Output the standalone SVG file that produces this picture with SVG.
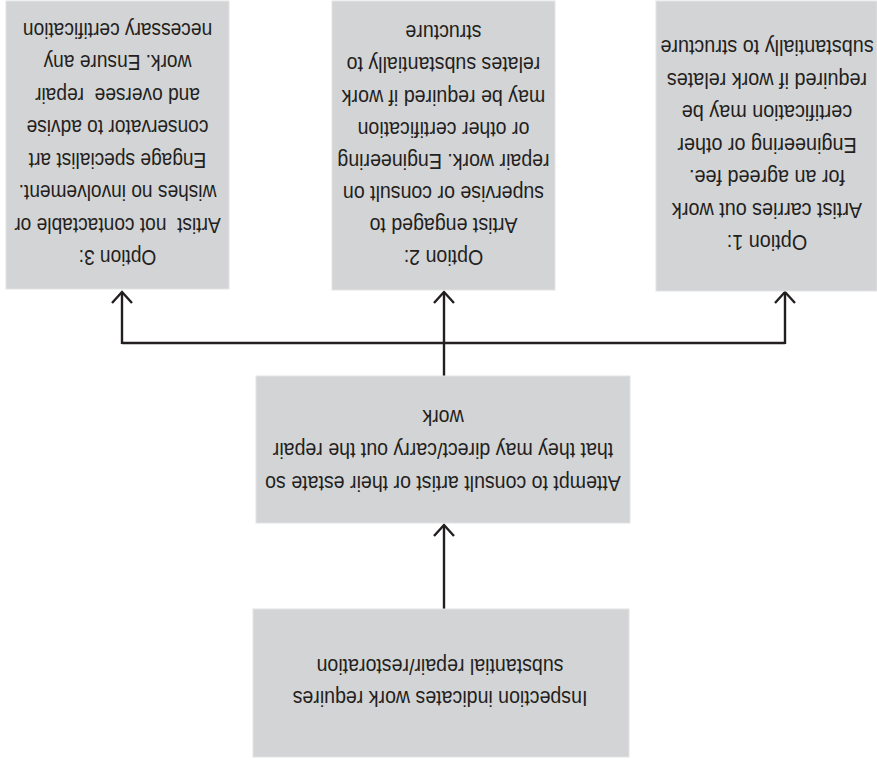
<svg xmlns="http://www.w3.org/2000/svg" width="877" height="762" viewBox="0 0 877 762">
  <style>
    .box { fill: #d3d4d6; stroke: #e2e3e4; stroke-width: 1; }
    .lbl { font-family: "Liberation Sans", Arial, sans-serif; font-size: 22px; fill: #231f20; text-anchor: middle; white-space: pre; }
    .wire { fill: none; stroke: #231f20; stroke-width: 2.4; }
  </style>
  <defs>
    <marker id="arrow" markerUnits="userSpaceOnUse" viewBox="-14 -12 16 24" refX="0" refY="0" markerWidth="16" markerHeight="24" orient="auto">
      <path d="M-11,-10 L0,0 L-11,10" fill="none" stroke="#231f20" stroke-width="2.4"/>
    </marker>
  </defs>
  <rect width="877" height="762" fill="#ffffff"/>

  <!-- connectors -->
  <g id="connectors">
    <path class="wire" d="M444,609 V525" marker-end="url(#arrow)"/>
    <path class="wire" d="M444,376 V292" marker-end="url(#arrow)"/>
    <path class="wire" d="M122,343 H785"/>
    <path class="wire" d="M122,344 V292" marker-end="url(#arrow)"/>
    <path class="wire" d="M785,344 V292" marker-end="url(#arrow)"/>
  </g>

  <!-- the chart is printed upside down: each label block is turned about its box centre,
       and narrowed horizontally to give a condensed face -->
  <g id="inspection">
    <rect class="box" x="253" y="609" width="376" height="148"/>
    <g transform="rotate(180 441 683) translate(442 0) scale(0.89 1) translate(-442 0)">
      <text class="lbl" x="442" y="675">Inspection indicates work requires</text>
      <text class="lbl" x="442" y="707">substantial repair/restoration</text>
    </g>
  </g>

  <g id="consult">
    <rect class="box" x="256" y="376" width="374" height="147"/>
    <g transform="rotate(180 443 449.5) translate(443 0) scale(0.89 1) translate(-443 0)">
      <text class="lbl" x="443" y="423">Attempt to consult artist or their estate so</text>
      <text class="lbl" x="443" y="456">that they may direct/carry out the repair</text>
      <text class="lbl" x="443" y="489">work</text>
    </g>
  </g>

  <g id="option1">
    <rect class="box" x="656" y="1" width="221" height="290"/>
    <g transform="rotate(180 766.5 146) translate(766 0) scale(0.9 1) translate(-766 0)">
      <text class="lbl" x="766" y="57">Option 1:</text>
      <text class="lbl" x="766" y="89.5">Artist carries out work</text>
      <text class="lbl" x="766" y="122">for an agreed fee.</text>
      <text class="lbl" x="766" y="154.5">Engineering or other</text>
      <text class="lbl" x="766" y="187">certification may be</text>
      <text class="lbl" x="766" y="219.5">required if work relates</text>
      <text class="lbl" x="766" y="252">substantially to structure</text>
    </g>
  </g>

  <g id="option2">
    <rect class="box" x="332" y="1" width="223" height="289"/>
    <g transform="rotate(180 443.5 145.5) translate(443.5 0) scale(0.89 1) translate(-443.5 0)">
      <text class="lbl" x="443.5" y="41">Option 2:</text>
      <text class="lbl" x="443.5" y="73">Artist engaged to</text>
      <text class="lbl" x="443.5" y="105">supervise or consult on</text>
      <text class="lbl" x="443.5" y="137">repair work. Engineering</text>
      <text class="lbl" x="443.5" y="169">or other certification</text>
      <text class="lbl" x="443.5" y="201">may be required if work</text>
      <text class="lbl" x="443.5" y="234">relates substantially to</text>
      <text class="lbl" x="443.5" y="266">structure</text>
    </g>
  </g>

  <g id="option3">
    <rect class="box" x="6" y="1" width="223" height="288"/>
    <g transform="rotate(180 117.5 145) translate(117.5 0) scale(0.87 1) translate(-117.5 0)">
      <text class="lbl" x="117.5" y="40">Option 3:</text>
      <text class="lbl" x="117.5" y="72.5">Artist  not contactable or</text>
      <text class="lbl" x="117.5" y="105">wishes no involvement.</text>
      <text class="lbl" x="117.5" y="137.5">Engage specialist art</text>
      <text class="lbl" x="117.5" y="170">conservator to advise</text>
      <text class="lbl" x="117.5" y="202.5">and oversee  repair</text>
      <text class="lbl" x="117.5" y="235">work. Ensure any</text>
      <text class="lbl" x="117.5" y="267.5">necessary certification</text>
    </g>
  </g>
</svg>
